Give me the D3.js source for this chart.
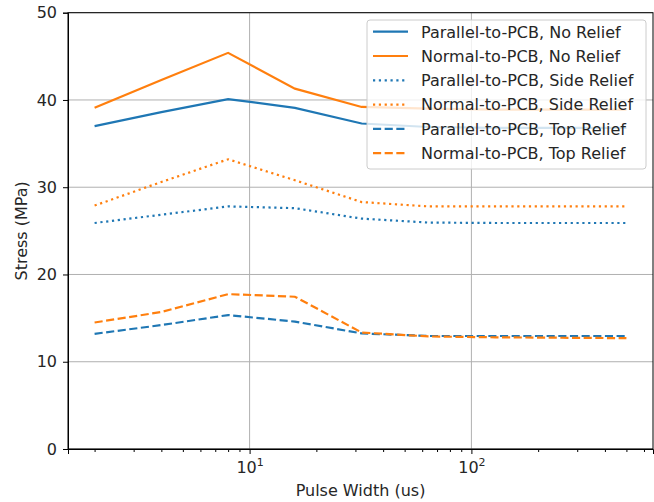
<!DOCTYPE html>
<meta charset="utf-8">
<style>
  body { margin: 0; background: #fff; }
  text { font-family: "DejaVu Sans", sans-serif; fill: #262626; }
</style>
<body>
<script src="https://d3js.org/d3.v7.min.js"></script>
<script>
  // pulse widths (us)
  const pulseWidth = [2, 4, 8, 16, 32, 64, 128, 256, 500];

  const parallelNoRelief   = [37.0, 38.6, 40.1, 39.1, 37.3, 36.9, 36.8, 36.8, 36.8];
  const normalNoRelief     = [39.1, 42.3, 45.4, 41.3, 39.2, 39.0, 38.9, 38.9, 38.9];
  const parallelSideRelief = [25.9, 26.85, 27.8, 27.6, 26.4, 25.95, 25.9, 25.9, 25.9];
  const normalSideRelief   = [27.9, 30.6, 33.2, 30.8, 28.3, 27.8, 27.8, 27.8, 27.8];
  const parallelTopRelief  = [13.2, 14.2, 15.35, 14.6, 13.25, 12.95, 12.95, 12.95, 12.95];
  const normalTopRelief    = [14.5, 15.7, 17.75, 17.45, 13.35, 12.9, 12.8, 12.75, 12.7];

  const seriesNames = [
    "Parallel-to-PCB, No Relief",
    "Normal-to-PCB, No Relief",
    "Parallel-to-PCB, Side Relief",
    "Normal-to-PCB, Side Relief",
    "Parallel-to-PCB, Top Relief",
    "Normal-to-PCB, Top Relief"
  ];
  const seriesValues = [parallelNoRelief, normalNoRelief, parallelSideRelief,
                        normalSideRelief, parallelTopRelief, normalTopRelief];

  const yTicks = [0, 10, 20, 30, 40, 50];
  const xTicks = [10, 100];

  const blue = "#1f77b4", orange = "#ff7f0e";
  const lw = 2.2;
  const styles = [
    {c: blue,   dash: null},
    {c: orange, dash: null},
    {c: blue,   dash: `${1*lw},${1.65*lw}`},
    {c: orange, dash: `${1*lw},${1.65*lw}`},
    {c: blue,   dash: `${3.7*lw},${1.6*lw}`},
    {c: orange, dash: `${3.7*lw},${1.6*lw}`}
  ];

  const W = 654, H = 502;
  const margin = {left: 68, top: 12.7, right: 1, bottom: 53};
  const width = W - margin.left - margin.right;
  const height = H - margin.top - margin.bottom;
  const fs = "16px";

  const svg = d3.select("body").append("svg")
    .attr("width", W).attr("height", H);
  const g = svg.append("g")
    .attr("transform", `translate(${margin.left},${margin.top})`);

  // matplotlib-style 5% margin in log space
  const lo = Math.log10(d3.min(pulseWidth)), hi = Math.log10(d3.max(pulseWidth));
  const pad = (hi - lo) * 0.05;
  const x = d3.scaleLog().domain([10 ** (lo - pad), 10 ** (hi + pad)]).range([0, width]);
  const y = d3.scaleLinear().domain([0, 50]).range([height, 0]);

  // grid
  g.append("g").selectAll("line").data(xTicks).join("line")
    .attr("x1", d => x(d)).attr("x2", d => x(d))
    .attr("y1", 0).attr("y2", height)
    .attr("stroke", "#b0b0b0").attr("stroke-width", 1);
  g.append("g").selectAll("line").data(yTicks).join("line")
    .attr("x1", 0).attr("x2", width)
    .attr("y1", d => y(d)).attr("y2", d => y(d))
    .attr("stroke", "#b0b0b0").attr("stroke-width", 1);

  // lines
  const line = d3.line().x((d, i) => x(pulseWidth[i])).y(d => y(d));
  seriesValues.forEach((vals, k) => {
    g.append("path")
      .attr("d", line(vals))
      .attr("fill", "none")
      .attr("stroke", styles[k].c)
      .attr("stroke-width", lw)
      .attr("stroke-dasharray", styles[k].dash);
  });

  // axes
  const yAxis = g.append("g").call(d3.axisLeft(y).tickValues(yTicks).tickSize(5).tickPadding(6));
  yAxis.selectAll("text").style("font-size", fs).attr("fill", "#262626");

  const minorTicks = x.ticks().filter(d => !xTicks.includes(d));
  const xAxisMinor = g.append("g").attr("transform", `translate(0,${height})`)
    .call(d3.axisBottom(x).tickValues(minorTicks).tickSize(3).tickFormat(""));
  xAxisMinor.select(".domain").remove();
  const xAxis = g.append("g").attr("transform", `translate(0,${height})`)
    .call(d3.axisBottom(x).tickValues(xTicks).tickSize(5).tickFormat(""));
  xAxis.selectAll(".tick").append("text")
    .attr("y", 24).attr("text-anchor", "middle").style("font-size", fs)
    .each(function(d) {
      const t = d3.select(this);
      t.append("tspan").text("10");
      t.append("tspan").attr("dy", -7).style("font-size", "11px").text(Math.round(Math.log10(d)));
    });

  [yAxis, xAxis, xAxisMinor].forEach(a => a.selectAll("line, path").attr("stroke", "#000").attr("stroke-width", 1));

  // frame
  g.append("rect").attr("width", width).attr("height", height)
    .attr("fill", "none").attr("stroke", "#000").attr("stroke-width", 1);

  // labels
  svg.append("text").attr("x", margin.left + width / 2).attr("y", 496)
    .attr("text-anchor", "middle").style("font-size", fs).text("Pulse Width (us)");
  svg.append("text")
    .attr("transform", `translate(27,${margin.top + height / 2}) rotate(-90)`)
    .attr("text-anchor", "middle").style("font-size", fs).text("Stress (MPa)");

  // legend
  const lg = svg.append("g").attr("transform", "translate(367,20)");
  lg.append("rect").attr("width", 279).attr("height", 149).attr("rx", 3)
    .attr("fill", "#fff").attr("fill-opacity", 0.8)
    .attr("stroke", "#cccccc").attr("stroke-width", 1);
  seriesNames.forEach((name, k) => {
    const yy = 11.7 + k * 24.3;
    lg.append("line").attr("x1", 6).attr("x2", 41).attr("y1", yy).attr("y2", yy)
      .attr("stroke", styles[k].c).attr("stroke-width", lw)
      .attr("stroke-dasharray", styles[k].dash);
    lg.append("text").attr("x", 54).attr("y", yy + 5.8).style("font-size", fs).text(name);
  });
</script>
</body>
